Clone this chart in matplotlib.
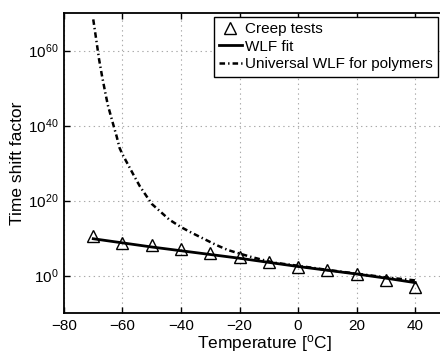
import numpy as np
import matplotlib
matplotlib.use("Agg")
import matplotlib.pyplot as plt

plt.rcParams["font.family"] = ["Liberation Sans", "DejaVu Sans"]
plt.rcParams["mathtext.fontset"] = "custom"
plt.rcParams["mathtext.rm"] = "Liberation Sans"
plt.rcParams["mathtext.it"] = "Liberation Sans:italic"
plt.rcParams["lines.scale_dashes"] = False

# creep test shift factors (log10)
test_temp = [-70, -60, -50, -40, -30, -20, -10, 0, 10, 20, 30, 40]
test_log = [10.6, 8.7, 8.1, 7.2, 5.9, 5.0, 3.6, 2.4, 1.45, 0.5, -1.15, -3.0]

# WLF fit (log10)
fit_temp = [-70, -60, -50, -40, -30, -20, -10, 0, 10, 20, 30, 40]
fit_log = [9.8, 8.7, 7.6, 6.6, 5.6, 4.6, 3.5, 2.4, 1.4, 0.4, -0.7, -1.9]

# universal WLF curve (log10)
uni_temp = [-70, -69, -68, -67, -66, -65, -64, -63, -62, -61, -60, -58, -56,
            -54, -52, -50, -47, -44, -40, -36, -32, -28, -24, -20, -16, -12,
            -8, -4, 0, 10, 20, 30, 40]
uni_log = [68.3, 63.0, 57.6, 53.2, 49.2, 45.4, 42.6, 39.8, 37.1, 34.0, 32.3,
           29.4, 26.5, 23.7, 21.4, 19.1, 17.0, 14.9, 12.9, 11.25, 9.7, 8.15,
           6.8, 5.85, 4.95, 4.15, 3.4, 3.0, 2.6, 1.5, 0.5, -0.5, -1.3]

x_ticks = [-80, -60, -40, -20, 0, 20, 40]
y_exps = [0, 20, 40, 60]

fig = plt.figure(figsize=(4.4, 3.54), dpi=100)
# axes run past the right edge of the picture, as in the cropped original
ax = fig.add_axes([64 / 440, 1 - 313 / 354, 400 / 440, 300 / 354])
ax.patch.set_visible(False)

ax.plot(test_temp, 10.0 ** np.array(test_log), linestyle="none", marker="^",
        ms=8.5, mfc="none", mec="black", mew=1.0, label="Creep tests", zorder=3)
ax.plot(fit_temp, 10.0 ** np.array(fit_log), color="black", lw=2.0,
        label="WLF fit", zorder=4)
ax.plot(uni_temp, 10.0 ** np.array(uni_log), color="black", lw=1.8,
        linestyle=(0, (4, 2.2, 1, 2.2)), label="Universal WLF for polymers",
        zorder=4)

ax.set_yscale("log")
ax.set_xlim(-80, -80 + 400 / (351 / 120))
ax.set_ylim(1e-10, 1e70)
ax.set_xticks(x_ticks)
ax.set_xticklabels(["\u2212%d" % -t if t < 0 else "%d" % t for t in x_ticks])
ax.set_yticks([10.0 ** e for e in y_exps])
ax.set_yticklabels(["$10^{%d}$" % e for e in y_exps])
ax.yaxis.set_minor_locator(matplotlib.ticker.NullLocator())
ax.xaxis.set_minor_locator(matplotlib.ticker.NullLocator())

ax.grid(True, color="#aaaaaa", linestyle=(0, (1, 2.5)), linewidth=0.8)
ax.tick_params(direction="in", top=True, right=False, length=4, width=1,
               labelsize=11, pad=4)
for s in ax.spines.values():
    s.set_linewidth(1.3)
ax.spines["right"].set_visible(False)

ax.set_xlabel("Temperature [$^\\mathregular{o}$C]", fontsize=12.5, labelpad=0)
ax.set_ylabel("Time shift factor", fontsize=12.5, labelpad=2)

leg = ax.legend(loc="upper right", bbox_to_anchor=(438 / 440, 1 - 16.5 / 354),
                bbox_transform=fig.transFigure, borderaxespad=0, fontsize=11,
                frameon=True, fancybox=False, framealpha=1, edgecolor="black",
                handlelength=1.5, handletextpad=0.2, borderpad=0.35,
                labelspacing=0.25)
leg.get_frame().set_linewidth(1.0)

fig.savefig("out.png", dpi=100, facecolor="white")
